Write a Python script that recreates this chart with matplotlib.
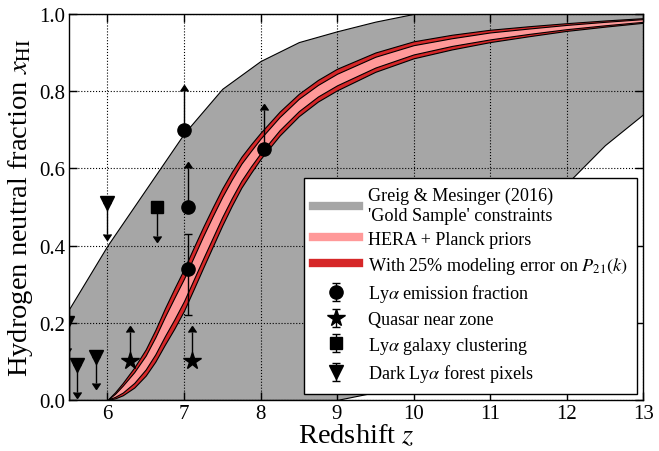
import matplotlib
matplotlib.use('Agg')
import matplotlib.pyplot as plt
import matplotlib.lines as mlines
import numpy as np

# fonts: Times-like serif + stix math
plt.rcParams['font.family'] = ['Liberation Serif', 'DejaVu Serif']
plt.rcParams['mathtext.fontset'] = 'stix'

# Greig & Mesinger (2016) gold sample region
gm_z = [5.5, 6.0, 7.0, 7.5, 8.0, 8.5, 9.0, 9.5, 10.0, 10.5, 11.0, 11.5, 12.0, 12.5, 13.0]
gm_upper = [0.236, 0.40, 0.69, 0.806, 0.878, 0.927, 0.955, 0.98, 1.0, 1.0, 1.0, 1.0, 1.0, 1.0, 1.0]
gm_lower = [0.0, 0.0, 0.0, 0.0, 0.0, 0.0, 0.0, 0.02, 0.05, 0.10, 0.20, 0.35, 0.56, 0.66, 0.74]

# HERA forecast: central history and half widths
z_mid = [6.0, 6.1, 6.2, 6.35, 6.5, 6.625, 6.75, 6.875, 7.0, 7.125, 7.25, 7.375, 7.5, 7.625, 7.75, 7.875, 8.0,
         8.25, 8.5, 8.75, 9.0, 9.5, 10.0, 10.5, 11.0, 11.5, 12.0, 12.5, 13.0]
xhi_mid = [0.0, 0.012, 0.028, 0.058, 0.097, 0.14, 0.19, 0.237, 0.285, 0.34, 0.395, 0.448, 0.50, 0.547, 0.59, 0.625,
           0.658, 0.716, 0.764, 0.801, 0.83, 0.875, 0.907, 0.927, 0.943, 0.955, 0.966, 0.975, 0.983]
hw_outer = [0.0, 0.008, 0.016, 0.026, 0.034, 0.041, 0.047, 0.052, 0.054, 0.054, 0.053, 0.051, 0.048, 0.044, 0.04,
            0.037, 0.034, 0.031, 0.029, 0.028, 0.028, 0.025, 0.022, 0.019, 0.016, 0.013, 0.01, 0.008, 0.006]
hw_inner = [0.0, 0.004, 0.009, 0.014, 0.018, 0.022, 0.025, 0.028, 0.029, 0.029, 0.029, 0.028, 0.026, 0.024, 0.022,
            0.02, 0.019, 0.017, 0.016, 0.015, 0.015, 0.014, 0.012, 0.01, 0.009, 0.007, 0.0055, 0.0045, 0.0035]

# Lya emission fraction
lae_z = [7.0, 7.05, 7.05, 8.05]
lae_x = [0.70, 0.50, 0.34, 0.65]
lae_lo = [0.0, 0.0, 0.12, 0.0]
lae_hi = [0.10, 0.10, 0.09, 0.10]
lae_lolim = [True, True, False, True]

# quasar near zone (lower limits)
qso_z = [6.3, 7.1]
qso_x = [0.10, 0.10]
qso_err = [0.075, 0.075]

# Lya galaxy clustering (upper limit)
clus_z = [6.65]
clus_x = [0.50]
clus_err = [0.075]

# dark Lya forest pixels (upper limits)
dark_z = [5.47, 5.6, 5.85, 6.0]
dark_x = [0.20, 0.09, 0.11, 0.51]
dark_err = [0.065, 0.07, 0.065, 0.08]

fig = plt.figure(figsize=(6.59, 4.52), dpi=100)
ax = fig.add_axes([0.105, 0.113, 0.871, 0.854])

gray = '#a6a6a6'
pink = '#ff9999'
red = '#d62728'

ax.fill_between(gm_z, gm_lower, gm_upper, facecolor=gray, edgecolor='k', lw=0.8, zorder=0.3)

zm = np.array(z_mid)
xm = np.array(xhi_mid)
ho = np.array(hw_outer)
hi = np.array(hw_inner)
ax.fill_between(zm, xm - ho, xm + ho, facecolor=red, edgecolor='k', lw=0.8, zorder=2)
ax.fill_between(zm, xm - hi, xm + hi, facecolor=pink, edgecolor='k', lw=0.8, zorder=2.1)

eb = dict(color='k', ecolor='k', elinewidth=1, capsize=3, ls='none', zorder=3)
h_lae = ax.errorbar(lae_z, lae_x, yerr=[lae_lo, lae_hi], lolims=lae_lolim, fmt='o', ms=9.5, **eb)
h_qso = ax.errorbar(qso_z, qso_x, yerr=qso_err, lolims=True, fmt='*', ms=13, **eb)
h_clus = ax.errorbar(clus_z, clus_x, yerr=clus_err, uplims=True, fmt='s', ms=8, **eb)
h_dark = ax.errorbar(dark_z, dark_x, yerr=dark_err, uplims=True, fmt='v', ms=9.5, **eb)

ax.set_xlim(5.5, 13)
ax.set_ylim(0, 1)
ax.set_xticks(range(6, 14))
ax.set_yticks([0.0, 0.2, 0.4, 0.6, 0.8, 1.0])
ax.set_yticklabels(['0.0', '0.2', '0.4', '0.6', '0.8', '1.0'])
ax.grid(True, ls=':', color='k', lw=0.8)
ax.set_axisbelow('line')
ax.tick_params(direction='in', top=True, right=True, length=6, width=1, labelsize=15, pad=3)
for sp in ax.spines.values():
    sp.set_linewidth(1)

ax.set_xlabel('Redshift $z$', fontsize=20.5, labelpad=0)
ax.set_ylabel('Hydrogen neutral fraction $x_{\\rm HI}$', fontsize=20.5, labelpad=3)

# legend
handles = [
    mlines.Line2D([], [], color=gray, lw=6),
    mlines.Line2D([], [], color=pink, lw=6),
    mlines.Line2D([], [], color=red, lw=6),
    h_lae, h_qso, h_clus, h_dark,
]
labels = [
    "Greig & Mesinger (2016)\n'Gold Sample' constraints",
    'HERA + Planck priors',
    'With 25% modeling error on $P_{21}(k)$',
    r'Ly$\alpha$ emission fraction',
    'Quasar near zone',
    r'Ly$\alpha$ galaxy clustering',
    r'Dark Ly$\alpha$ forest pixels',
]
leg = ax.legend(handles, labels, loc='lower right', fontsize=13.1, fancybox=False,
                framealpha=1, edgecolor='k', handlelength=2.5, borderaxespad=0.35,
                borderpad=0.5, labelspacing=0.37, handletextpad=0.5)
leg.get_frame().set_linewidth(1)
leg.set_zorder(5)

plt.savefig('out.png', dpi=100)
